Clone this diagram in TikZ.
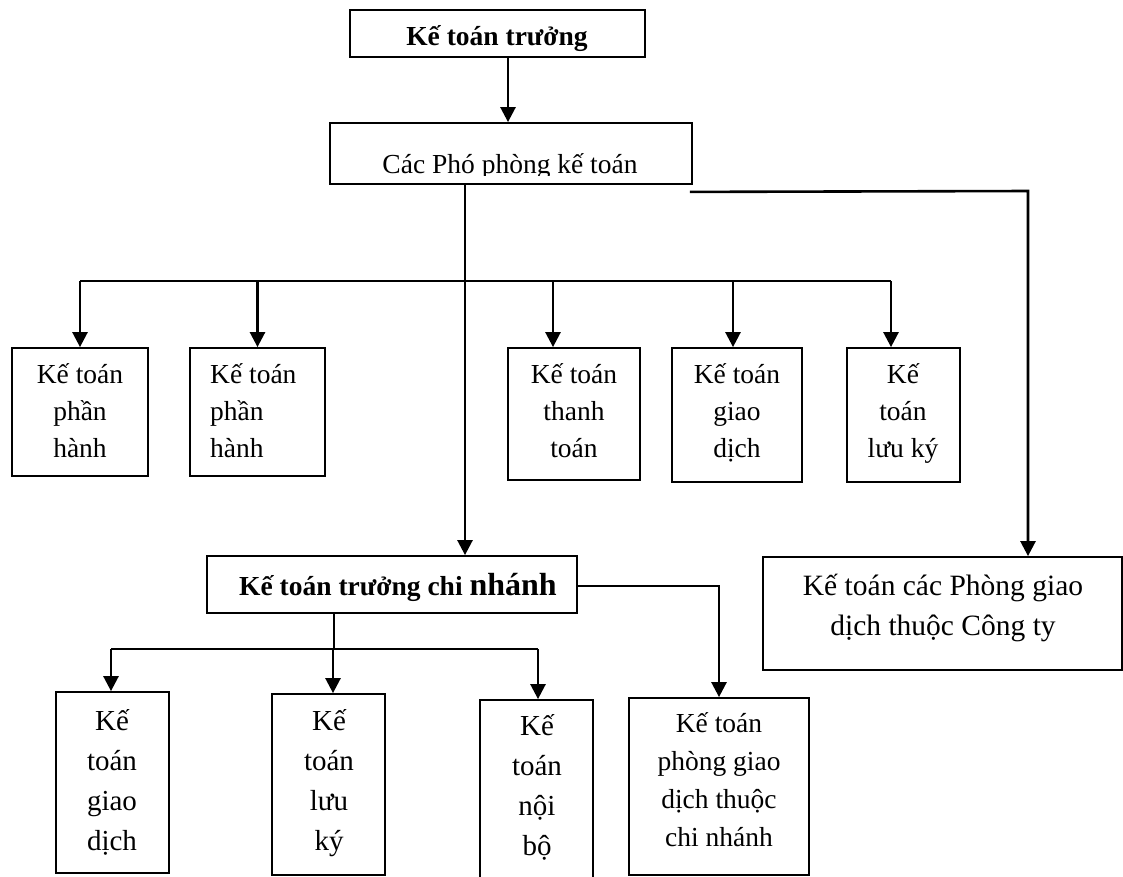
\documentclass[tikz,border=0pt]{standalone}
\usepackage{fontspec}
\setmainfont{Liberation Serif}
\usetikzlibrary{arrows.meta}

% rectangle node given by its corners (x1,y1) and (x2,y2), y measured downwards
\newcommand\orgbox[5]{%
  \node[box, minimum width={#4-#2}, minimum height={#5-#3}] (#1) at ({(#2+#4)/2},{(#3+#5)/2}) {};}
% strut that fixes the first baseline 28pt below the top of a text block
\newcommand\fl{\rule{0pt}{28pt}}

\tikzset{
  box/.style={draw=black, line width=1.8pt, inner sep=0pt},
  conn/.style={line width=2.6pt},
  arr/.style={conn, -{Triangle[length=15pt,width=15pt]}},
  txt/.style={inner sep=0pt, align=center, font=\fontsize{27.5}{37}\selectfont},
  ltxt/.style={inner sep=0pt, align=center, font=\fontsize{29}{40}\selectfont},
  btxt/.style={inner sep=0pt, font=\bfseries\fontsize{27.5}{33}\selectfont},
}

\begin{document}
\begin{tikzpicture}[x=1pt,y=-1pt]
\useasboundingbox (0,0) rectangle (1123,876);
\fill[white] (0,0) rectangle (1123,876);
\clip (0,0) rectangle (1123,876);

% ---- head office ----
\orgbox{top}{350}{10}{645}{57}
\node[btxt, anchor=base] (top-t) at (497,45) {Kế toán trưởng};

\orgbox{pho}{330}{123}{692}{184}
\begin{scope}
  \clip (330,123) rectangle (692,175);
  \node[txt, anchor=base] (pho-t) at (510,173) {Các Phó phòng kế toán};
\end{scope}

\orgbox{k1}{12}{348}{148}{476}
\orgbox{k2}{190}{348}{325}{476}
\orgbox{k3}{508}{348}{640}{480}
\orgbox{k4}{672}{348}{802}{482}
\orgbox{k5}{847}{348}{960}{482}

\node[txt, anchor=north] (k1-t) at (80,355) {\fl Kế toán\\phần\\hành};
\node[txt, anchor=north west, align=left] (k2-t) at (210,355) {\fl Kế toán\\phần\\hành};
\node[txt, anchor=north] (k3-t) at (574,355) {\fl Kế toán\\thanh\\toán};
\node[txt, anchor=north] (k4-t) at (737,355) {\fl Kế toán\\giao\\dịch};
\node[txt, anchor=north] (k5-t) at (903,355) {\fl Kế\\toán\\lưu ký};

\orgbox{cty}{763}{557}{1122}{670}
\node[ltxt, anchor=north, font=\fontsize{29.5}{40}\selectfont] (cty-t) at (943,567) {\fl Kế toán các Phòng giao\\dịch thuộc Công ty};

% ---- branch ----
\orgbox{cn}{207}{556}{577}{613}
\node[btxt, anchor=base west] (cn-t) at (239,595) {Kế toán trưởng chi {\fontsize{32}{33}\selectfont nhánh}};

\orgbox{a}{56}{692}{169}{873}
\orgbox{b}{272}{694}{385}{875}
\orgbox{c}{480}{700}{593}{900}
\orgbox{d}{629}{698}{809}{875}

\node[ltxt, anchor=north] (a-t) at (112,702) {\fl Kế\\toán\\giao\\dịch};
\node[ltxt, anchor=north] (b-t) at (329,702) {\fl Kế\\toán\\lưu\\ký};
\node[ltxt, anchor=north] (c-t) at (537,707) {\fl Kế\\toán\\nội\\bộ};
\node[txt, anchor=north, font=\fontsize{27.5}{38}\selectfont] (d-t) at (719,704) {\fl Kế toán\\phòng giao\\dịch thuộc\\chi nhánh};

% ---- connectors ----
\coordinate (bus1) at (0,281);
\coordinate (bus2) at (0,649);
\coordinate (rbend) at (1028,191);

\draw[arr] ([xshift=10.5pt]top.south) -- ([xshift=10.5pt]top.south |- pho.north);
\draw[arr] ([xshift=-46pt]pho.south) -- ([xshift=-46pt]pho.south |- cn.north);

\draw[conn] (k1.north |- bus1) -- ([xshift=-12.5pt]k5.north |- bus1);
\draw[arr] (k1.north |- bus1) -- (k1.north);
\draw[arr] (k2.north |- bus1) -- (k2.north);
\draw[arr] ([xshift=-21pt]k3.north |- bus1) -- ([xshift=-21pt]k3.north);
\draw[arr] ([xshift=-4pt]k4.north |- bus1) -- ([xshift=-4pt]k4.north);
\draw[arr] ([xshift=-12.5pt]k5.north |- bus1) -- ([xshift=-12.5pt]k5.north);

\draw[arr] ([xshift=-3pt,yshift=-7pt]pho.south east) -- (rbend) -- (rbend |- cty.north);

\draw[conn] ([xshift=-1.5pt]a.north |- bus2) -- ([xshift=1.5pt]c.north |- bus2);
\draw[conn] ([xshift=-58pt]cn.south) -- ([xshift=-58pt]cn.south |- bus2);
\draw[arr] ([xshift=-1.5pt]a.north |- bus2) -- ([xshift=-1.5pt]a.north);
\draw[arr] ([xshift=4.5pt]b.north |- bus2) -- ([xshift=4.5pt]b.north);
\draw[arr] ([xshift=1.5pt]c.north |- bus2) -- ([xshift=1.5pt]c.north);

\draw[arr] ([yshift=-1.5pt]cn.east) -| (d.north);
\end{tikzpicture}
\end{document}
